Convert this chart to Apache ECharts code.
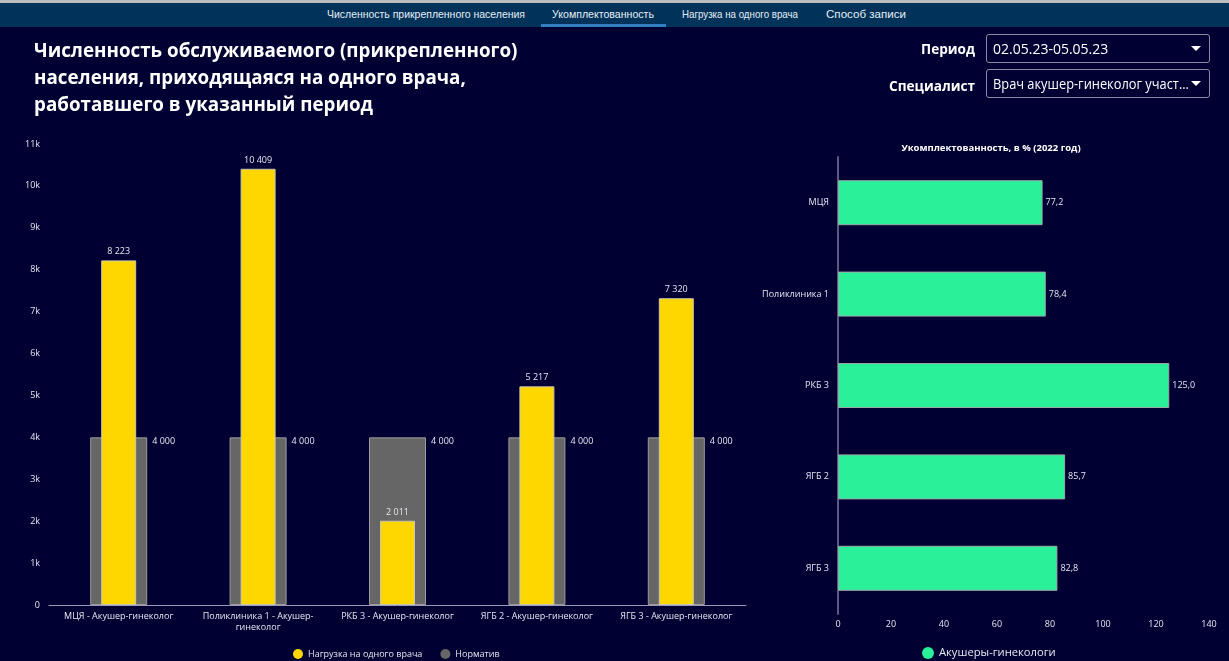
<!DOCTYPE html>
<html>
<head>
<meta charset="utf-8">
<script src="https://cdn.jsdelivr.net/npm/echarts@6/dist/echarts.min.js"></script>
<style>
html,body{margin:0;padding:0;width:1229px;height:661px;overflow:hidden;background:#000033;font-family:"Open Sans","Noto Sans",sans-serif;}
#chart{position:absolute;left:0;top:0;width:1229px;height:661px;}
#topstrip{position:absolute;left:0;top:0;width:1229px;height:3px;background:#bdbdbd;}
#nav{position:absolute;left:0;top:3px;width:1229px;height:24px;background:#00325a;}
#nav span{position:absolute;top:5px;font-family:"Liberation Sans",Arial,sans-serif;font-size:11px;color:#e8eef5;white-space:nowrap;transform-origin:left top;}
#uline{position:absolute;left:541px;top:21px;width:125px;height:3px;background:#2f7fc1;}
#title{position:absolute;left:34px;top:37px;font-family:"Open Sans",sans-serif;font-weight:bold;font-size:18.8px;line-height:27px;color:#ffffff;}
.lbl{position:absolute;font-family:"Open Sans",sans-serif;font-weight:bold;font-size:13.6px;color:#fff;text-align:right;}
.sel{position:absolute;left:986px;width:224px;height:29px;border:1px solid #8a8aa0;border-radius:3px;box-sizing:border-box;color:#fff;font-family:"Open Sans",sans-serif;font-size:14px;line-height:27px;padding-left:6px;white-space:nowrap;overflow:hidden;}
.sel .arr{position:absolute;right:8px;top:11px;width:0;height:0;border-left:5px solid transparent;border-right:5px solid transparent;border-top:5px solid #fff;}
.sel .t{display:inline-block;transform-origin:left center;}
</style>
</head>
<body>
<div id="chart"></div>
<div id="topstrip"></div>
<div id="nav">
  <span id="n1" style="left:327px">Численность прикрепленного населения</span>
  <span id="n2" style="left:552px">Укомплектованность</span>
  <span id="n3" style="left:682px">Нагрузка на одного врача</span>
  <span id="n4" style="left:826px">Способ записи</span>
  <div id="uline"></div>
</div>
<div id="title">Численность обслуживаемого (прикрепленного)<br>населения, приходящаяся на одного врача,<br>работавшего в указанный период</div>
<div class="lbl" style="left:860px;width:115px;top:39px;">Период</div>
<div class="lbl" style="left:860px;width:115px;top:76px;">Специалист</div>
<div class="sel" style="top:34px;"><span class="t">02.05.23-05.05.23</span><div class="arr"></div></div>
<div class="sel" style="top:69px;"><span class="t" id="s2">Врач акушер-гинеколог участ...</span><div class="arr"></div></div>
<script>
const categories = ['МЦЯ - Акушер-гинеколог','Поликлиника 1 - Акушер-гинеколог','РКБ 3 - Акушер-гинеколог','ЯГБ 2 - Акушер-гинеколог','ЯГБ 3 - Акушер-гинеколог'];
const loadValues = [8223, 10409, 2011, 5217, 7320];
const normValues = [4000, 4000, 4000, 4000, 4000];
const seriesNames = ['Нагрузка на одного врача', 'Норматив'];
const yTickMax = 11000;
const hospitals = ['МЦЯ','Поликлиника 1','РКБ 3','ЯГБ 2','ЯГБ 3'];
const staffing = [77.2, 78.4, 125.0, 85.7, 82.8];
const staffingName = 'Акушеры-гинекологи';
const staffingTitle = 'Укомплектованность, в % (2022 год)';

// fit nav items and the long select text to the reference widths
[['n1',198],['n2',102],['n3',116],['n4',80],['s2',196]].forEach(([id,w])=>{
  const el=document.getElementById(id); const cw=el.getBoundingClientRect().width;
  el.style.transform='scaleX('+(w/cw)+')';
});

function fmtThousands(v){ return String(v).replace(/\B(?=(\d{3})+(?!\d))/g, ' '); }
function wrapCat(s){
  if (s.length <= 26) return s;
  const i = s.lastIndexOf('-', 24);
  return s.slice(0, i+1) + '\n' + s.slice(i+1);
}

const chart = echarts.init(document.getElementById('chart'));
const txt = '#e6e6f0';
chart.setOption({
  backgroundColor: '#000033',
  textStyle: {fontFamily: '"Open Sans", "Noto Sans", sans-serif'},
  title: [{
    text: staffingTitle, left: 986, top: 138, textAlign: 'center',
    textStyle: {color: '#fff', fontSize: 9.5, fontWeight: 'bold'}
  }],
  legend: [{
    data: seriesNames, left: 288, top: 644, itemWidth: 10, itemHeight: 10, icon: 'circle', itemGap: 18,
    itemStyle: {borderWidth: 0},
    textStyle: {color: txt, fontSize: 9}
  },{
    data: [staffingName], left: 917, top: 642, itemWidth: 12, itemHeight: 12, icon: 'circle', itemGap: 4,
    itemStyle: {borderWidth: 0},
    textStyle: {color: txt, fontSize: 11.2}
  }],
  grid: [
    {left: 49, right: 483, top: 144, bottom: 56},
    {left: 838, right: 20, top: 157, bottom: 47}
  ],
  xAxis: [
    {type: 'category', data: categories, gridIndex: 0,
     axisLine: {lineStyle: {color: '#9a9ab8'}}, axisTick: {show: false},
     axisLabel: {color: txt, fontSize: 9, interval: 0, margin: 6, lineHeight: 11, formatter: wrapCat}},
    {type: 'category', data: categories, gridIndex: 0, show: false},
    {type: 'value', gridIndex: 1, min: 0, max: 140, interval: 20,
     axisLine: {show: false}, axisTick: {show: false}, splitLine: {show: false},
     axisLabel: {color: txt, fontSize: 9, margin: 6}}
  ],
  yAxis: [
    {type: 'value', gridIndex: 0, min: 0, max: yTickMax, interval: 1000,
     axisLine: {show: false}, axisTick: {show: false}, splitLine: {show: false},
     axisLabel: {color: txt, fontSize: 9, margin: 9, formatter: v => v === 0 ? '0' : (v/1000) + 'k'}},
    {type: 'category', gridIndex: 1, data: hospitals, inverse: true,
     axisLine: {show: true, lineStyle: {color: '#5a5a80', width: 2}}, axisTick: {show: false},
     axisLabel: {color: txt, fontSize: 9, margin: 9}}
  ],
  series: [
    {name: seriesNames[1], type: 'bar', xAxisIndex: 1, yAxisIndex: 0, data: normValues, barWidth: 57,
     itemStyle: {color: '#666666', borderColor: '#9c9c9c', borderWidth: 1},
     label: {show: true, position: ['100%', 0], distance: 0, offset: [5, 0], color: txt, fontSize: 9,
             formatter: p => fmtThousands(p.value)}},
    {name: seriesNames[0], type: 'bar', xAxisIndex: 0, yAxisIndex: 0, data: loadValues, barWidth: 35,
     itemStyle: {color: '#ffd700', borderColor: '#c8c8b0', borderWidth: 1},
     label: {show: true, position: 'top', distance: 4, color: txt, fontSize: 9,
             formatter: p => fmtThousands(p.value)}},
    {name: staffingName, type: 'bar', xAxisIndex: 2, yAxisIndex: 1, data: staffing, barWidth: 45,
     itemStyle: {color: '#2af09a', borderColor: '#9aa8a8', borderWidth: 1},
     label: {show: true, position: 'right', distance: 3, color: txt, fontSize: 9,
             formatter: p => p.value.toFixed(1).replace('.', ',')}}
  ]
});
</script>
</body>
</html>
